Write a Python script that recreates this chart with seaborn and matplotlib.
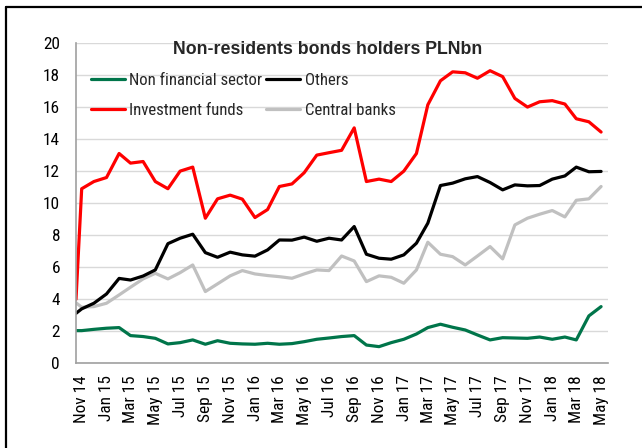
import matplotlib
matplotlib.use("Agg")
import matplotlib.pyplot as plt
import matplotlib.dates as mdates
import matplotlib.transforms as mtransforms
from matplotlib import font_manager
from matplotlib.lines import Line2D
import pandas as pd
import seaborn as sns

# Observation dates: start of the series, then mid-month readings Nov 2014 - May 2018
dates = [pd.Timestamp("2014-11-01")] + list(
    pd.date_range("2014-11-01", "2018-05-01", freq="MS") + pd.Timedelta(days=14)
)

non_financial = [2.04, 2.04, 2.12, 2.19, 2.23, 1.73, 1.67, 1.56, 1.21, 1.29, 1.46,
                 1.19, 1.41, 1.25, 1.21, 1.19, 1.25, 1.19, 1.23, 1.35, 1.50, 1.58,
                 1.67, 1.73, 1.14, 1.04, 1.29, 1.50, 1.83, 2.23, 2.44, 2.25, 2.08,
                 1.77, 1.46, 1.60, 1.58, 1.56, 1.64, 1.50, 1.64, 1.46, 2.96, 3.54]
others = [3.12, 3.40, 3.75, 4.33, 5.30, 5.20, 5.45, 5.83, 7.47, 7.81, 8.06,
          6.91, 6.62, 6.94, 6.77, 6.69, 7.08, 7.70, 7.69, 7.88, 7.62, 7.81,
          7.70, 8.54, 6.81, 6.56, 6.50, 6.77, 7.50, 8.75, 11.10, 11.25, 11.52,
          11.66, 11.29, 10.83, 11.14, 11.08, 11.10, 11.50, 11.70, 12.25, 11.96, 11.98]
investment_funds = [4.00, 10.90, 11.35, 11.60, 13.10, 12.50, 12.60, 11.35, 10.90, 12.00, 12.25,
                    9.06, 10.27, 10.50, 10.25, 9.10, 9.60, 11.04, 11.20, 11.90, 13.00, 13.15,
                    13.30, 14.70, 11.35, 11.50, 11.35, 12.00, 13.10, 16.14, 17.64, 18.20, 18.14,
                    17.80, 18.27, 17.90, 16.54, 16.00, 16.33, 16.40, 16.19, 15.27, 15.08, 14.44]
central_banks = [3.78, 3.50, 3.54, 3.75, 4.27, 4.75, 5.27, 5.62, 5.27, 5.66, 6.14,
                 4.48, 4.96, 5.46, 5.79, 5.58, 5.48, 5.41, 5.31, 5.58, 5.83, 5.79,
                 6.70, 6.39, 5.10, 5.46, 5.37, 5.00, 5.83, 7.56, 6.81, 6.66, 6.14,
                 6.70, 7.29, 6.52, 8.64, 9.06, 9.31, 9.54, 9.14, 10.18, 10.27, 11.04]

series_names = ["Non financial sector", "Others", "Investment funds", "Central banks"]
series_values = [non_financial, others, investment_funds, central_banks]
series_colors = ["#00754A", "#000000", "#FF0000", "#C0C0C0"]
title_text = "Non-residents bonds holders PLNbn"
y_ticks = [0, 2, 4, 6, 8, 10, 12, 14, 16, 18, 20]

frames = [pd.DataFrame({"date": dates, "value": vals, "series": name})
          for name, vals in zip(series_names, series_values)]
df = pd.concat(frames, ignore_index=True)

sns.set_style("white")


def pick_narrow_font():
    """Return (family, stretch, size factor) for a narrow sans face, if one is installed."""
    entries = [f for f in font_manager.fontManager.ttflist
               if f.style == "normal" and f.weight in (400, "normal", "regular")]
    for wanted in ["Liberation Sans Narrow", "Arial Narrow"]:
        for f in entries:
            if f.name == wanted:
                return f.name, f.stretch, 1.0
    for fam in ["Noto Sans", "Open Sans", "Roboto", "DejaVu Sans", "Lato", "Inter"]:
        for f in entries:
            if f.name.startswith(fam) and (f.stretch == "condensed" or "Condensed" in f.name) \
                    and "Semi" not in f.name and "Extra" not in f.name:
                return f.name, f.stretch, 0.97
    return "Liberation Sans", "normal", 0.85


narrow_family, narrow_stretch, size_factor = pick_narrow_font()
plt.rcParams["font.family"] = [narrow_family, "DejaVu Sans"]
plt.rcParams["font.stretch"] = narrow_stretch

fig = plt.figure(figsize=(6.42, 4.48), dpi=100)
ax = fig.add_axes([76 / 642, 1 - 363.3 / 448, (608 - 76) / 642, (363.3 - 43) / 448])

palette = dict(zip(series_names, series_colors))
# grey drawn first so the coloured lines sit on top
for name in ["Central banks", "Non financial sector", "Others", "Investment funds"]:
    sns.lineplot(data=df[df["series"] == name], x="date", y="value", color=palette[name],
                 linewidth=2.3, ax=ax, label=name, legend=False)

ax.set_xlim(pd.Timestamp("2014-11-01"), pd.Timestamp("2018-06-01"))
ax.set_ylim(0, 20)
ax.set_yticks(y_ticks)
ax.xaxis.set_major_locator(mdates.MonthLocator(bymonth=[1, 3, 5, 7, 9, 11]))
ax.xaxis.set_major_formatter(mdates.DateFormatter("%b %y"))
ax.set_xlabel("")
ax.set_ylabel("")

ax.grid(axis="y", color="#d9d9d9", linewidth=1.0)
ax.grid(axis="x", visible=False)
for side in ["top", "right"]:
    ax.spines[side].set_visible(False)
for side in ["left", "bottom"]:
    ax.spines[side].set_color("#a0a0a0")
    ax.spines[side].set_linewidth(1.2)
ax.tick_params(axis="both", which="major", direction="out", length=4.5, width=1.0,
               color="#a0a0a0", labelsize=12.8 * size_factor, labelcolor="#000000")
ax.tick_params(axis="y", pad=7)
ax.tick_params(axis="x", pad=4)
offset = mtransforms.ScaledTranslation(6 / 100, 0, fig.dpi_scale_trans)
for lbl in ax.get_xticklabels():
    lbl.set_rotation(90)
    lbl.set_transform(lbl.get_transform() + offset)

handles = {h.get_label(): h for h in ax.get_lines() if h.get_label() in series_names}
order = ["Non financial sector", "Investment funds", "Others", "Central banks"]
ax.legend([handles[n] for n in order], order, ncol=2, frameon=False,
          loc="upper left", bbox_to_anchor=(90.7 / 642, 1 - 73 / 448),
          bbox_transform=fig.transFigure, borderpad=0, borderaxespad=0,
          handlelength=2.0 / size_factor, handletextpad=0.25 / size_factor,
          columnspacing=0.2 / size_factor, labelspacing=0.88 / size_factor,
          fontsize=12.4 * size_factor)

fig.text(328 / 642, 1 - 54 / 448, title_text, ha="center", va="baseline",
         fontsize=12.8, fontweight="bold", fontstretch="normal",
         family=["Liberation Sans", "DejaVu Sans"])

# outer chart frame (top and left edges)
fig.add_artist(Line2D([6 / 642, 1.0], [1 - 7 / 448, 1 - 7 / 448],
                      transform=fig.transFigure, color="black", linewidth=1.6))
fig.add_artist(Line2D([6 / 642, 6 / 642], [0.0, 1 - 7 / 448],
                      transform=fig.transFigure, color="black", linewidth=1.6))

fig.savefig("out.png", dpi=100)
